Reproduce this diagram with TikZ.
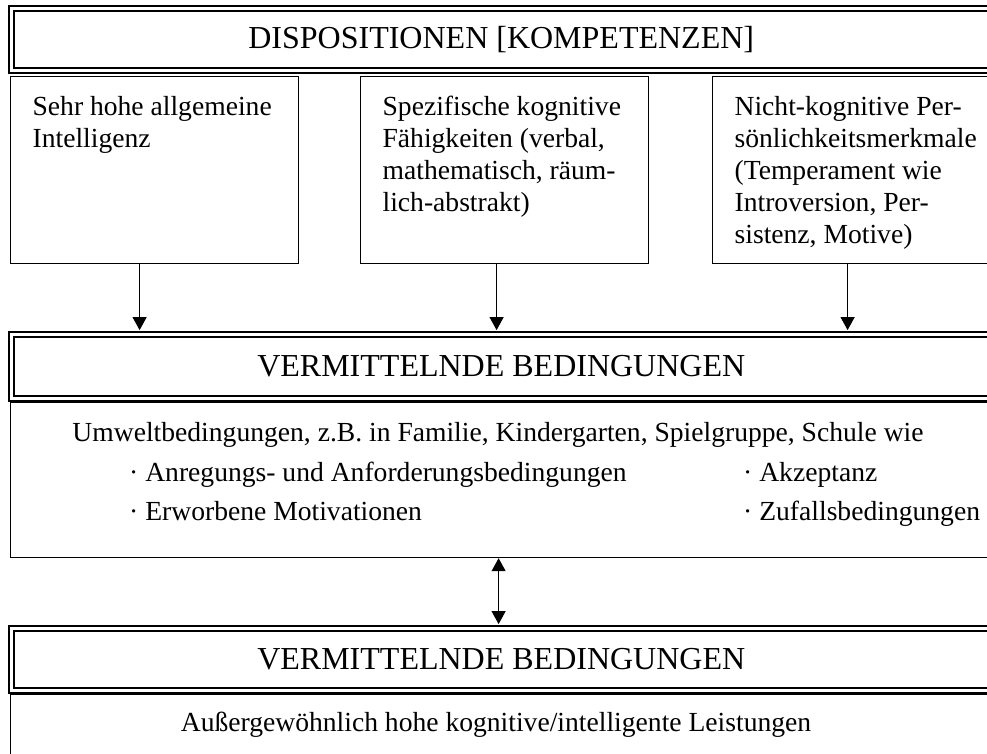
\documentclass[tikz,border=0pt]{standalone}
\usepackage{fontspec}
\setmainfont{Liberation Serif}
\usepackage{tikz}
\usetikzlibrary{arrows.meta,calc}

\newcommand{\dispotext}[1]{\parbox[t][153.8pt][t]{244pt}{\raggedright\strut #1}}

\tikzset{
  headbox/.style={draw, double, line width=1.8pt, double distance=3pt,
    minimum width=979.5pt, minimum height=62.4pt, inner sep=0pt,
    font=\fontsize{32}{36}\selectfont},
  dispbox/.style={draw, line width=1.2pt, anchor=north west,
    inner xsep=22pt, inner ysep=16.6pt},
  infobox/.style={draw, line width=1.2pt, anchor=north west,
    minimum width=990pt, inner sep=0pt},
  txt/.style={inner sep=0pt},
  pfeil/.style={-{Triangle[length=13pt,width=14pt]}, line width=1.1pt},
  pfeilzwei/.style={{Triangle[length=13pt,width=14pt]}-{Triangle[length=13pt,width=14pt]}, line width=1.1pt}
}

\begin{document}
\begin{tikzpicture}[x=1pt, y=-1pt, font=\fontsize{27.6}{32}\selectfont]
  \useasboundingbox (0,0) rectangle (987,753);

  % Dispositionen
  \node[headbox] (disp) at (501.25,39.5) {DISPOSITIONEN [KOMPETENZEN]};
  \node[dispbox] (intel) at (10,76)
    {\dispotext{Sehr hohe allgemeine\\Intelligenz}};
  \node[dispbox] (kogn) at (360,76)
    {\dispotext{Spezifische kognitive\\Fähigkeiten (verbal,\\mathematisch, räum-\\lich-abstrakt)}};
  \node[dispbox] (pers) at (712,76)
    {\dispotext{Nicht-kognitive Per-\\sönlichkeitsmerkmale\\(Temperament wie\\Introversion, Per-\\sistenz, Motive)}};

  % Vermittelnde Bedingungen
  \node[infobox, minimum height=155pt] (umweltbox) at (10,402) {};
  \node[headbox, minimum height=64.4pt] (verm) at (501.25,366.5) {VERMITTELNDE BEDINGUNGEN};
  \node[txt, anchor=base] (umwelt) at (498,441)
    {Umweltbedingungen, z.B. in Familie, Kindergarten, Spielgruppe, Schule wie};
  \node[txt, anchor=base west] (anreg) at (129,481) {· Anregungs- und Anforderungsbedingungen};
  \node[txt, anchor=base west] (erw) at (129,520) {· Erworbene Motivationen};
  \node[txt, anchor=base west] (akz) at (743,481) {· Akzeptanz};
  \node[txt, anchor=base west] (zuf) at (743,520) {· Zufallsbedingungen};

  % Leistungen
  \node[infobox, minimum height=80pt] (leistbox) at (10,694) {};
  \node[headbox] (leisthead) at (501.25,659.5) {VERMITTELNDE BEDINGUNGEN};
  \node[txt, anchor=base] (leist) at (496,731)
    {Außergewöhnlich hohe kognitive/intelligente Leistungen};

  % Pfeile
  \draw[pfeil] ($(intel.south)+(-15,0)$) -- ($(intel.south |- verm.north)+(-15,-3.3)$);
  \draw[pfeil] ($(kogn.south)+(-8,0)$) -- ($(kogn.south |- verm.north)+(-8,-3.3)$);
  \draw[pfeil] ($(pers.south)+(-9,0)$) -- ($(pers.south |- verm.north)+(-9,-3.3)$);
  \draw[pfeilzwei] ($(umweltbox.south)+(-7,0)$) -- ($(umweltbox.south |- leisthead.north)+(-7,-3.3)$);
\end{tikzpicture}
\end{document}
